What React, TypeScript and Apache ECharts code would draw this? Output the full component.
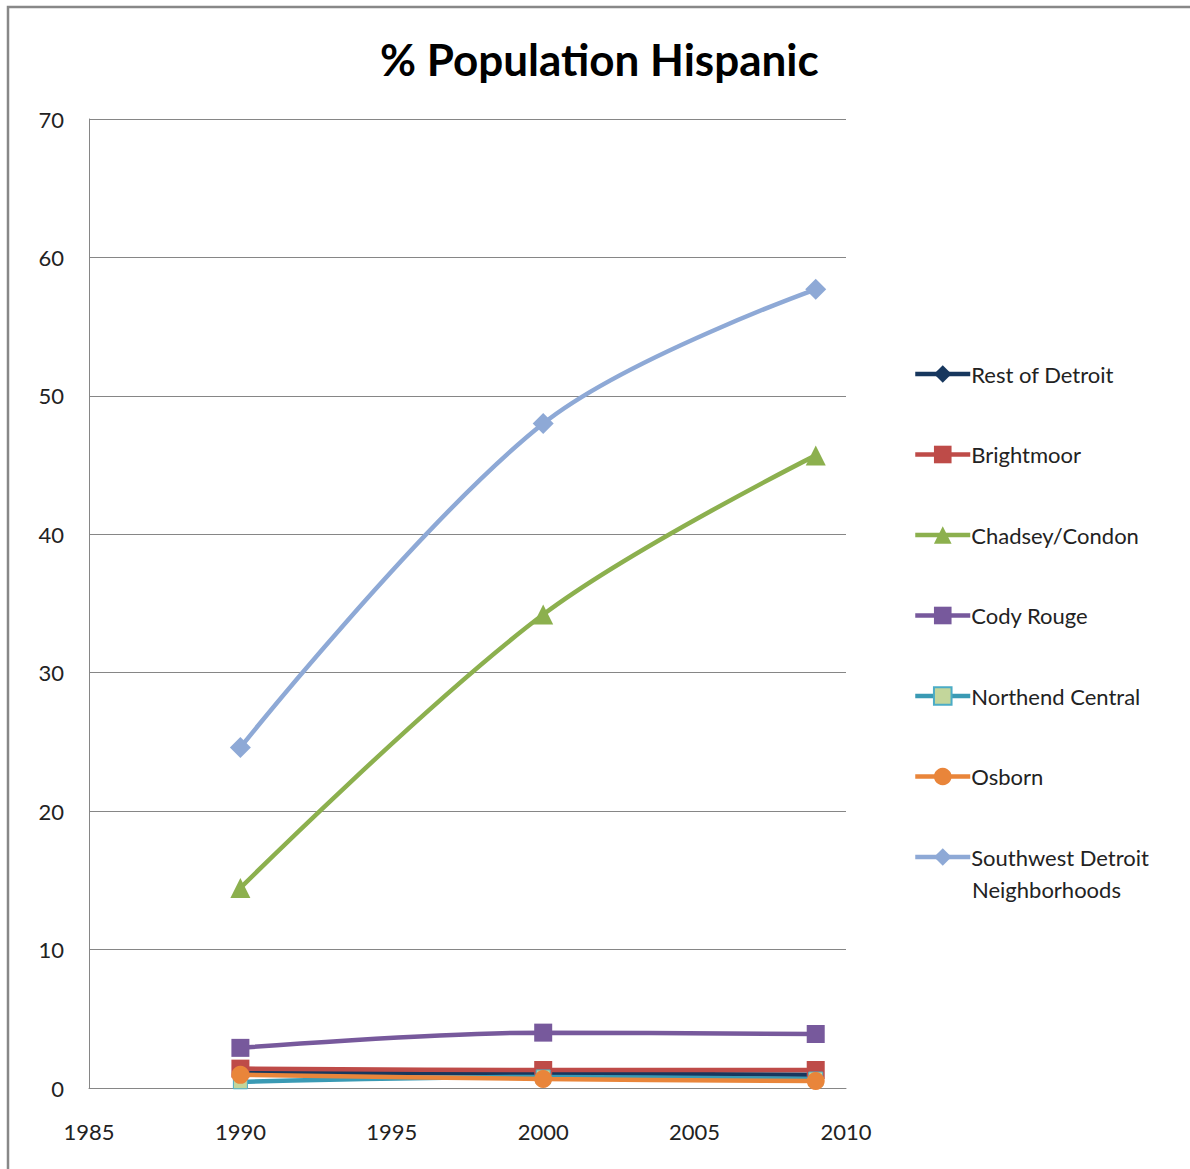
import React, { useEffect, useRef } from "react";
import * as echarts from "echarts";

const years = [1990, 2000, 2009];
const seriesNames = [
  "Rest of Detroit",
  "Brightmoor",
  "Chadsey/Condon",
  "Cody Rouge",
  "Northend Central",
  "Osborn",
  "Southwest Detroit Neighborhoods",
];
const restOfDetroit = [1.1, 1.05, 0.95];
const brightmoor = [1.4, 1.3, 1.3];
const chadseyCondon = [14.45, 34.2, 45.7];
const codyRouge = [2.9, 4.0, 3.9];
const northendCentral = [0.45, 0.8, 0.65];
const osborn = [0.95, 0.65, 0.5];
const southwestDetroit = [24.6, 48.0, 57.7];
const xTicks = { min: 1985, max: 2010, interval: 5 };
const yTicks = { min: 0, max: 70, interval: 10 };

const FONT = "Lato, 'Open Sans', sans-serif";

export default function App() {
  const ref = useRef<HTMLDivElement>(null);
  useEffect(() => {
    if (!ref.current) return;
    const chart = echarts.init(ref.current, undefined, { renderer: "svg" });
    const values = [
      restOfDetroit,
      brightmoor,
      chadseyCondon,
      codyRouge,
      northendCentral,
      osborn,
      southwestDetroit,
    ];
    const colors = ["#17375E", "#BE4B48", "#8CB04E", "#77599C", "#3A9AB4", "#E9853A", "#8EA9D6"];
    const symbols = ["diamond", "rect", "triangle", "rect", "rect", "circle", "diamond"];
    const sizes = [16, 18, 20, 18, 14, 18, 21];
    const series = values.map((vals, i) => ({
      name: seriesNames[i],
      type: "line",
      smooth: 0.35,
      data: vals.map((v, j) => [years[j], v]),
      symbol: symbols[i],
      symbolSize: sizes[i],
      showSymbol: true,
      lineStyle: { color: colors[i], width: 4.5 },
      itemStyle:
        i === 4
          ? { color: "#C3D69B", borderColor: "#4BACC6", borderWidth: 1 }
          : { color: colors[i] },
      emphasis: { disabled: true },
      z: 2 + i,
    }));
    chart.setOption({
      animation: false,
      backgroundColor: "#ffffff",
      title: {
        text: "% Population Hispanic",
        left: 380,
        top: 37,
        padding: 0,
        textStyle: { fontFamily: FONT, fontWeight: "bold", fontSize: 44, color: "#000" },
      },
      grid: { left: 89, right: 344, top: 119, bottom: 81, containLabel: false },
      xAxis: {
        type: "value",
        min: xTicks.min,
        max: xTicks.max,
        interval: xTicks.interval,
        axisLine: { show: true, lineStyle: { color: "#868686", width: 1 } },
        axisTick: { show: false },
        splitLine: { show: false },
        axisLabel: {
          fontFamily: FONT,
          fontSize: 22,
          color: "#222",
          margin: 32,
          formatter: (v: number) => String(v),
        },
      },
      yAxis: {
        type: "value",
        min: yTicks.min,
        max: yTicks.max,
        interval: yTicks.interval,
        axisLine: { show: true, lineStyle: { color: "#868686", width: 1 } },
        axisTick: { show: false },
        splitLine: { show: true, lineStyle: { color: "#868686", width: 1 } },
        axisLabel: { fontFamily: FONT, fontSize: 22, color: "#222", margin: 25 },
      },
      legend: {
        orient: "vertical",
        left: 913,
        top: 363,
        padding: 0,
        itemWidth: 55,
        itemHeight: 22,
        itemGap: 58.5,
        data: seriesNames,
        lineStyle: { width: 4.5 },
        formatter: (name: string) =>
          name === "Southwest Detroit Neighborhoods" ? "Southwest Detroit" : name,
        textStyle: { fontFamily: FONT, fontSize: 22, color: "#222", padding: [0, 0, 0, -4] },
      },
      graphic: [
        {
          type: "rect",
          shape: { x: 8, y: 7, width: 1200, height: 1200 },
          style: { fill: "none", stroke: "#888888", lineWidth: 2.5 },
          silent: true,
          z: 0,
        },
        {
          type: "text",
          left: 972,
          top: 878,
          style: { text: "Neighborhoods", fontFamily: FONT, fontSize: 22, fill: "#222" },
          silent: true,
        },
      ],
      series,
    });
    return () => chart.dispose();
  }, []);
  return (
    <div
      ref={ref}
      style={{ position: "absolute", left: 0, top: 0, width: 1190, height: 1169 }}
    />
  );
}
